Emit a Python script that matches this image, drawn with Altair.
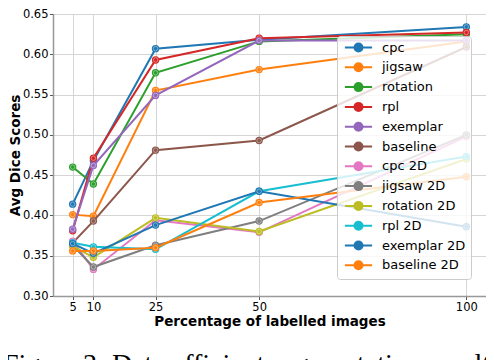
import altair as alt
import pandas as pd

# ---- data ----
pct = [5, 10, 25, 50, 100]
series_names = ["cpc", "jigsaw", "rotation", "rpl", "exemplar", "baseline",
                "cpc 2D", "jigsaw 2D", "rotation 2D", "rpl 2D", "exemplar 2D", "baseline 2D"]
cpc = [0.414, 0.468, 0.607, 0.618, 0.634]
jigsaw = [0.401, 0.399, 0.555, 0.581, 0.616]
rotation = [0.460, 0.439, 0.577, 0.616, 0.625]
rpl = [0.381, 0.471, 0.593, 0.620, 0.627]
exemplar = [0.383, 0.462, 0.549, 0.617, 0.617]
baseline = [0.366, 0.393, 0.481, 0.493, 0.609]
cpc_2d = [0.368, 0.333, 0.394, 0.379, 0.498]
jigsaw_2d = [0.363, 0.336, 0.363, 0.393, 0.500]
rotation_2d = [0.362, 0.348, 0.397, 0.380, 0.470]
rpl_2d = [0.366, 0.361, 0.358, 0.430, 0.473]
exemplar_2d = [0.365, 0.353, 0.388, 0.430, 0.386]
baseline_2d = [0.356, 0.356, 0.360, 0.416, 0.448]
all_values = [cpc, jigsaw, rotation, rpl, exemplar, baseline,
              cpc_2d, jigsaw_2d, rotation_2d, rpl_2d, exemplar_2d, baseline_2d]
colors = ["#1f77b4", "#ff7f0e", "#2ca02c", "#d62728", "#9467bd", "#8c564b",
          "#e377c2", "#7f7f7f", "#bcbd22", "#17becf", "#1f77b4", "#ff7f0e"]
x_ticks = [5, 10, 25, 50, 100]
y_ticks = [0.30, 0.35, 0.40, 0.45, 0.50, 0.55, 0.60, 0.65]
x_title = "Percentage of labelled images"
y_title = "Avg Dice Scores"
caption = "Figure 3: Data efficient segmentation results"

rows = []
for name, vals in zip(series_names, all_values):
    for p, v in zip(pct, vals):
        rows.append({"method": name, "pct": p, "dice": v})
df = pd.DataFrame(rows)

PLOT_W, PLOT_H = 433, 282

x = alt.X("pct:Q",
          scale=alt.Scale(domain=[0.25, 104.75], nice=False, zero=False),
          axis=alt.Axis(values=x_ticks, title=x_title, titlePadding=1))
y = alt.Y("dice:Q",
          scale=alt.Scale(domain=[0.30, 0.65], nice=False, zero=False),
          axis=alt.Axis(values=y_ticks, format=".2f", title=y_title,
                        titleX=-31, titleY=PLOT_H / 2, titleAngle=-90,
                        titleBaseline="bottom", titleAlign="center",
                        labelPadding=1.5))
legend_symbol = "M-3.4,0L3.4,0M-1,0A1,1,0,1,1,1,0A1,1,0,1,1,-1,0Z"
color = alt.Color("method:N",
                  scale=alt.Scale(domain=series_names, range=colors),
                  legend=alt.Legend(title=None))

base = alt.Chart(df)
layers = []
for name in series_names:
    b = base.transform_filter(alt.datum.method == name)
    layers.append(b.mark_line(strokeWidth=2).encode(x=x, y=y, color=color))
    layers.append(b.mark_point(filled=True, size=55, opacity=1).encode(x=x, y=y, color=color))
    layers.append(b.mark_point(filled=False, size=20, stroke="white", strokeWidth=0.8,
                               opacity=0.5).encode(x=x, y=y))

chart = alt.layer(*layers).properties(
    width=PLOT_W, height=PLOT_H,
    autosize=alt.AutoSizeParams(type="none"),
    padding={"left": 45, "top": 6, "right": 0, "bottom": 84},
    title=alt.TitleParams(caption, orient="bottom", anchor="start", frame="group",
                          font="Liberation Serif", fontSize=28, fontWeight="normal",
                          color="black", offset=23, dx=-50),
).configure_view(
    stroke="#333333", strokeWidth=1
).configure_axis(
    labelFont="DejaVu Sans", labelFontSize=11.5, labelColor="black",
    titleFont="DejaVu Sans", titleFontSize=13.5, titleFontWeight="bold", titleColor="black",
    tickSize=3.5, tickColor="#555555", labelPadding=2,
    gridColor="#d5d5d5", gridWidth=1,
    domainColor="#999999", domainWidth=1.5,
).configure_legend(
    orient="none", legendX=284, legendY=22,
    labelFont="DejaVu Sans", labelFontSize=13, labelColor="black",
    symbolType=legend_symbol, symbolSize=64, symbolStrokeWidth=2,
    symbolOffset=10, labelOffset=17, rowPadding=2.8, padding=5,
    fillColor="rgba(255,255,255,0.8)", strokeColor="#cccccc", cornerRadius=3,
)

chart.save("out.html", embed_options={"renderer": "svg", "actions": False})
